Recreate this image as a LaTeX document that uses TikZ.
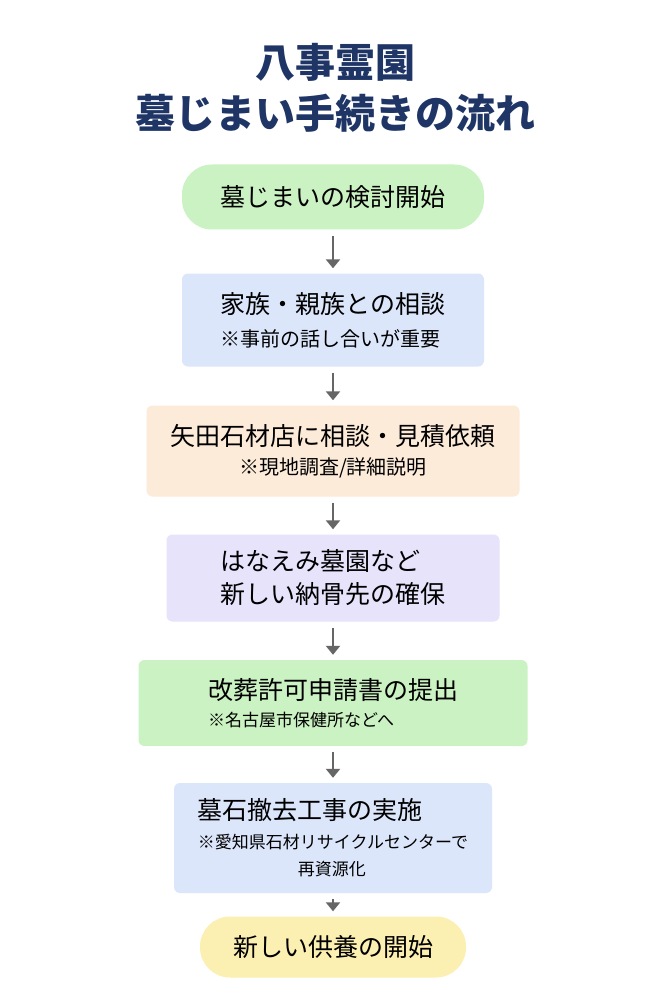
\documentclass[tikz,border=0pt]{standalone}
\usepackage{fontspec}
\setmainfont{Noto Sans CJK JP}
\usetikzlibrary{arrows.meta}
\definecolor{navy}{HTML}{1F3566}
\definecolor{cgreen}{HTML}{CBF2C2}
\definecolor{cblue}{HTML}{DCE6FB}
\definecolor{cpeach}{HTML}{FDEBD9}
\definecolor{clav}{HTML}{E6E3FA}
\definecolor{cyellow}{HTML}{FCEFB2}
\tikzset{
  stepbox/.style={rounded corners=6pt, inner sep=0pt, font=\fontsize{25}{33}\selectfont},
  pill/.style={rounded corners=30pt, inner sep=0pt, font=\fontsize{25}{33}\selectfont},
  flow/.style={draw=gray!80!black, line width=2.5pt, -{Triangle[length=9pt,width=14pt]}}
}
\newcommand{\subt}{\fontsize{20}{27}\selectfont}
\newcommand{\subs}{\fontsize{17}{22}\selectfont}
\begin{document}
\begin{tikzpicture}[x=1pt,y=-1pt]
    \useasboundingbox[fill=white] (0,0) rectangle (667,1000);

    % Titel
    \node[font=\fontsize{40}{51}\selectfont\bfseries, text=navy, align=center] (title) at (335,88)
        {八事霊園\\墓じまい手続きの流れ};

    % Schritte
    \node[pill, fill=cgreen, minimum width=302pt, minimum height=65pt] (s1) at (333,197) {墓じまいの検討開始};
    \node[stepbox, fill=cblue, minimum width=302pt, minimum height=93pt, align=left] (s2) at (333,320)
        {家族・親族との相談\\{\subt ※事前の話し合いが重要}};
    \node[stepbox, fill=cpeach, minimum width=373pt, minimum height=91pt, align=center] (s3) at (333,451)
        {矢田石材店に相談・見積依頼\\[-4pt]{\subt ※現地調査/詳細説明}};
    \node[stepbox, fill=clav, minimum width=333pt, minimum height=87pt, align=left] (s4) at (333,578)
        {はなえみ墓園など\\新しい納骨先の確保};
    \node[stepbox, fill=cgreen, minimum width=389pt, minimum height=86pt, align=left] (s5) at (333,703)
        {改葬許可申請書の提出\\[-6pt]{\subs ※名古屋市保健所などへ}};
    \node[stepbox, fill=cblue, minimum width=318pt, minimum height=110pt, align=left] (s6) at (333,838)
        {墓石撤去工事の実施\\[-4pt]{\subs ※愛知県石材リサイクルセンターで}\\[-6pt]{\subs\hspace*{100pt}再資源化}};
    \node[pill, fill=cyellow, minimum width=266pt, minimum height=61pt] (s7) at (333,947) {新しい供養の開始};

    % Pfeile
    \foreach \a/\b in {s1/s2,s2/s3,s3/s4,s4/s5,s5/s6,s6/s7}
        \draw[flow] ([yshift=-6pt]\a.south) -- ([yshift=5pt]\b.north);
\end{tikzpicture}
\end{document}
